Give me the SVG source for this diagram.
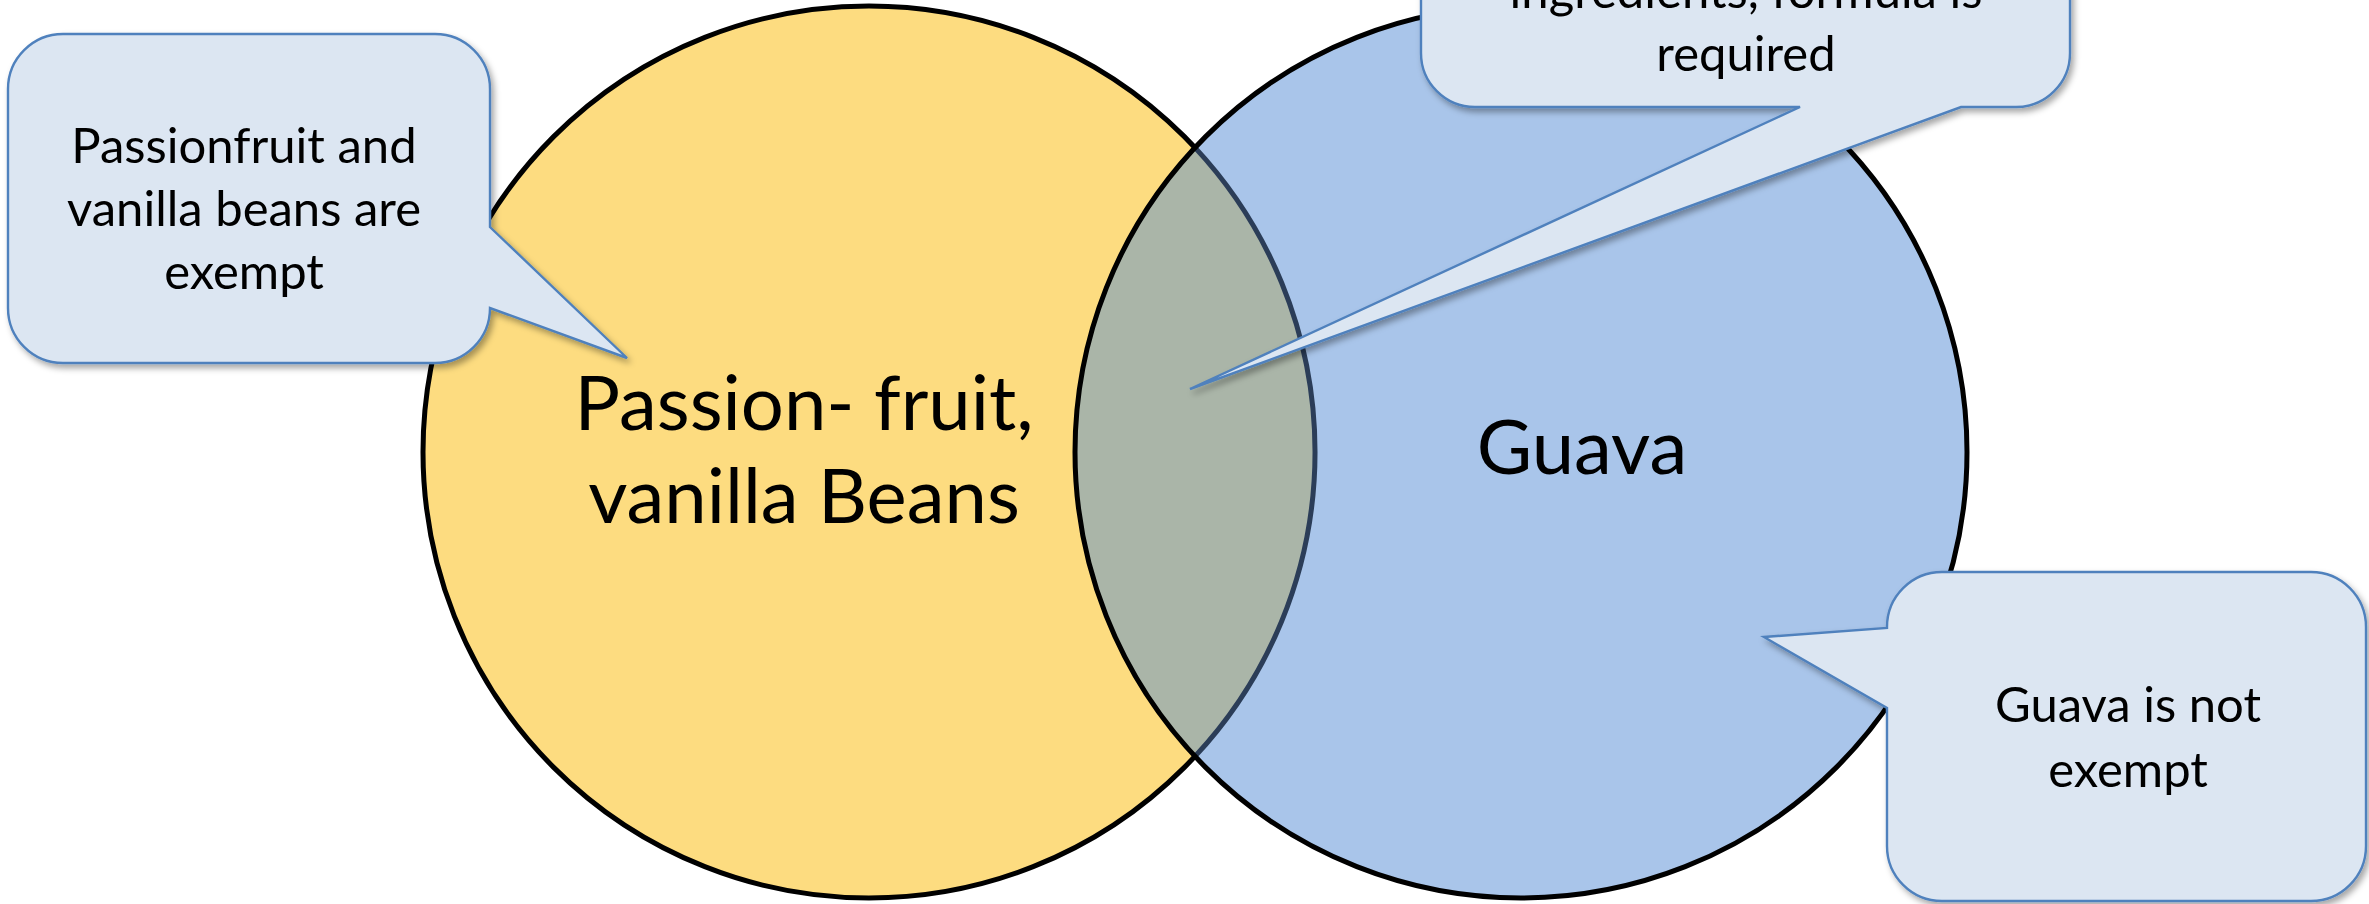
<svg xmlns="http://www.w3.org/2000/svg" width="2369" height="904" viewBox="0 0 2369 904">
<style>
.circ{stroke:#000;stroke-width:5}
.callout{fill:#DCE6F2;stroke:#4F81BD;stroke-width:2.4;filter:url(#sh)}
.t{font-family:Lato,"Open Sans",sans-serif;fill:#000;text-anchor:middle}
.small{font-size:49px}
.big{font-size:76px}
</style>
<defs>
<filter id="sh" x="-10%" y="-10%" width="130%" height="130%">
<feDropShadow dx="3" dy="4" stdDeviation="3" flood-color="#000" flood-opacity="0.35"/>
</filter>
</defs>
<rect width="2369" height="904" fill="#fff"/>
<g id="set-passionfruit">
<circle cx="869" cy="452" r="446" fill="#FDDC80" class="circ"/>
</g>
<g id="set-guava">
<circle cx="1521" cy="452" r="446" fill="#A9C5EA"/>
</g>
<g id="intersection">
<path d="M1195 147.6 A446 446 0 0 1 1195 756.4 A446 446 0 0 1 1195 147.6 Z" fill="#AAB5A8"/>
<path d="M1195 147.6 A446 446 0 0 1 1195 756.4" fill="none" stroke="#2B3D58" stroke-width="5"/>
</g>
<g id="guava-outline">
<circle cx="1521" cy="452" r="446" fill="none" class="circ"/>
</g>
<g id="label-passionfruit">
<text class="t big" x="804" y="430">Passion- fruit,</text>
<text class="t big" x="804" y="523">vanilla Beans</text>
</g>
<g id="label-guava">
<text class="t big" x="1582" y="474">Guava</text>
</g>
<g id="connectors"/>
<g id="callout-exempt">
<path class="callout" d="M63 34 H435 A55 55 0 0 1 490 89 V227 L627 358 L490 308 A55 55 0 0 1 435 363 H63 A55 55 0 0 1 8 308 V89 A55 55 0 0 1 63 34 Z"/>
<text class="t small" x="244" y="163">Passionfruit and</text>
<text class="t small" x="244" y="226">vanilla beans are</text>
<text class="t small" x="244" y="289">exempt</text>
</g>
<g id="callout-formula">
<path class="callout" d="M1475 -150 H2016 A54 54 0 0 1 2070 -96 V53 A54 54 0 0 1 2016 107 H1961 L1190 389 L1800 107 H1475 A54 54 0 0 1 1421 53 V-96 A54 54 0 0 1 1475 -150 Z"/>
<text class="t small" x="1746" y="8">ingredients, formula is</text>
<text class="t small" x="1746" y="71">required</text>
</g>
<g id="callout-guava">
<path class="callout" d="M1942 572 H2311 A55 55 0 0 1 2366 627 V846 A55 55 0 0 1 2311 901 H1942 A55 55 0 0 1 1887 846 V708 L1764 637 L1887 628 V627 A55 55 0 0 1 1942 572 Z"/>
<text class="t small" x="2128" y="722">Guava is not</text>
<text class="t small" x="2128" y="787">exempt</text>
</g>
</svg>
